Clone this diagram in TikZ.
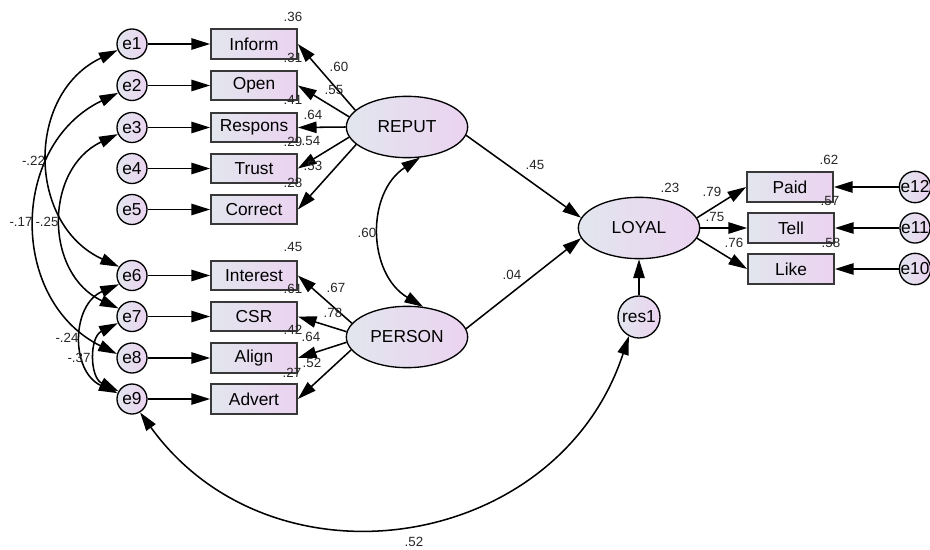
\documentclass[tikz,border=0pt]{standalone}
\usepackage{fontspec}
\setmainfont{Liberation Sans}
\usetikzlibrary{arrows.meta,shapes.geometric}
\definecolor{fillL}{HTML}{E2E6EE}
\definecolor{fillR}{HTML}{EBD3F0}
\definecolor{boxline}{HTML}{383838}
\begin{document}
\begin{tikzpicture}[x=0.75pt,y=-0.75pt,
  txt/.style={font=\fontsize{13}{15}\selectfont},
  obs/.style={txt, rectangle, draw=boxline, line width=1.3pt, left color=fillL, right color=fillR,
    minimum width=64.5pt, minimum height=22pt, inner sep=0pt},
  err/.style={txt, circle, draw=black, line width=1pt, left color=fillL, right color=fillR,
    minimum size=22.5pt, inner sep=0pt},
  lat/.style={txt, ellipse, draw=black, line width=1pt, left color=fillL, right color=fillR,
    minimum width=91pt, minimum height=46pt, inner sep=0pt},
  lbl/.style={font=\fontsize{10}{12}\selectfont, inner sep=0pt, text=black!85},
  pth/.style={-{Triangle[length=14pt,width=8.5pt]}, line width=1.15pt},
  cov/.style={{Triangle[length=14pt,width=8.5pt]}-{Triangle[length=14pt,width=8.5pt]}, line width=1.15pt}
]
\useasboundingbox (0,0) rectangle (930,549);

% error terms left
\node[err] (e1) at (132,44) {e1};
\node[err] (e2) at (132,85.5) {e2};
\node[err] (e3) at (132,127.5) {e3};
\node[err] (e4) at (132,168.5) {e4};
\node[err] (e5) at (132,209.5) {e5};
\node[err] (e6) at (132,275.5) {e6};
\node[err] (e7) at (132,316.5) {e7};
\node[err] (e8) at (132,358) {e8};
\node[err] (e9) at (132,399) {e9};

% indicators left
\node[obs] (Inform) at (254,44) {Inform};
\node[obs] (Open) at (254,85.5) {Open};
\node[obs] (Respons) at (254,127.5) {Respons};
\node[obs] (Trust) at (254,168.5) {Trust};
\node[obs] (Correct) at (254,209.5) {Correct};
\node[obs] (Interest) at (254,275.5) {Interest};
\node[obs] (CSR) at (254,316.5) {CSR};
\node[obs] (Align) at (254,358) {Align};
\node[obs] (Advert) at (254,399) {Advert};

% latent
\node[lat] (REPUT) at (407,127) {REPUT};
\node[lat] (PERSON) at (407,337) {PERSON};
\node[lat] (LOYAL) at (639,228) {LOYAL};
\node[err, minimum size=31.5pt] (res1) at (639,317) {res1};

% indicators right
\node[obs] (Paid) at (790,187) {Paid};
\node[obs] (Tell) at (791,228) {Tell};
\node[obs] (Like) at (791,269) {Like};
\node[err] (e12) at (915,187) {e12};
\node[err] (e11) at (915,228) {e11};
\node[err] (e10) at (915,269) {e10};

% error paths
\foreach \e/\b in {e1/Inform,e2/Open,e3/Respons,e4/Trust,e5/Correct,e6/Interest,e7/CSR,e8/Align,e9/Advert,e12/Paid,e11/Tell,e10/Like}
  \draw[pth] (\e) -- (\b);

% loadings
\draw[pth] (REPUT.162) -- (Inform.east);
\draw[pth] (REPUT.170) -- (Open.east);
\draw[pth] (REPUT.180) -- (Respons.east);
\draw[pth] (REPUT.190) -- (Trust.east);
\draw[pth] (REPUT.199) -- (Correct.east);
\draw[pth] (PERSON.166) -- (Interest.east);
\draw[pth] (PERSON.175) -- (CSR.east);
\draw[pth] (PERSON.185) -- (Align.east);
\draw[pth] (PERSON.193) -- (Advert.east);
\draw[pth] (LOYAL.10) -- (Paid.west);
\draw[pth] (LOYAL) -- (Tell);
\draw[pth] (LOYAL.-10) -- (Like.west);

% structural
\draw[pth] (REPUT.-8) -- (LOYAL.170);
\draw[pth] (PERSON.8) -- (LOYAL.190);
\draw[pth] (res1) -- (LOYAL);

% covariances
\draw[cov] (REPUT.-67) to[bend right=58, looseness=1.11] (PERSON.62);
\draw[cov] (e1.203) to[bend right=65, looseness=1.2] (e6.146);
\draw[cov] (e2.208) to[bend right=64, looseness=1.18] (e8.165);
\draw[cov] (e3.205) to[bend right=65, looseness=1.2] (e7.149);
\draw[cov] (e6.214) to[bend right=66, looseness=1.22] (e9.158);
\draw[cov] (e7.205) to[bend right=64, looseness=1.2] (e9.150);
\draw[cov] (e9.-59) to[bend right=63, looseness=1.17] (res1.242);

% labels
\node[lbl] (l01) at (293,17) {.36};
\node[lbl] (l02) at (293,58) {.31};
\node[lbl] (l03) at (339,67) {.60};
\node[lbl] (l04) at (334,90) {.55};
\node[lbl] (l05) at (293,100) {.41};
\node[lbl] (l06) at (313,115) {.64};
\node[lbl] (l07) at (293,142) {.29};
\node[lbl] (l08) at (311,141) {.54};
\node[lbl] (l09) at (313,166) {.53};
\node[lbl] (l10) at (293,183) {.28};
\node[lbl] (l11) at (293,247) {.45};
\node[lbl] (l12) at (293,289) {.61};
\node[lbl] (l13) at (336,288) {.67};
\node[lbl] (l14) at (333,313) {.78};
\node[lbl] (l15) at (293,330) {.42};
\node[lbl] (l16) at (311,337) {.64};
\node[lbl] (l17) at (312,363) {.52};
\node[lbl] (l18) at (292,373) {.27};
\node[lbl] (l19) at (367,233) {.60};
\node[lbl] (l20) at (535,165) {.45};
\node[lbl] (l21) at (512,275) {.04};
\node[lbl] (l22) at (670,188) {.23};
\node[lbl] (l23) at (712,192) {.79};
\node[lbl] (l24) at (715,217) {.75};
\node[lbl] (l25) at (734,243) {.76};
\node[lbl] (l26) at (829,160) {.62};
\node[lbl] (l27) at (830,201) {.57};
\node[lbl] (l28) at (831,243) {.58};
\node[lbl] (l29) at (414,542) {.52};
\node[lbl] (l30) at (33.5,161) {-.22};
\node[lbl] (l31) at (21,222) {-.17};
\node[lbl] (l32) at (47,222) {-.25};
\node[lbl] (l33) at (67,338) {-.24};
\node[lbl] (l34) at (79,358) {-.37};
\end{tikzpicture}
\end{document}
